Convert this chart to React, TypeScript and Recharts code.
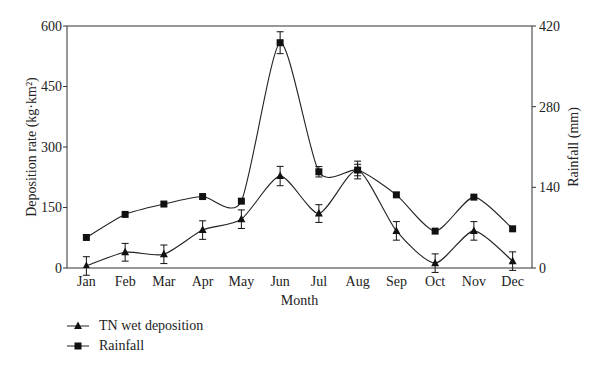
import React from 'react';
import { LineChart, Line, XAxis, YAxis, ErrorBar } from 'recharts';

const MONTHS = ['Jan', 'Feb', 'Mar', 'Apr', 'May', 'Jun', 'Jul', 'Aug', 'Sep', 'Oct', 'Nov', 'Dec'];
// TN wet deposition, left axis
const TN_DEPOSITION = [5, 39, 34, 94, 121, 228, 135, 243, 92, 12, 92, 17];
const TN_ERROR = [23, 22, 23, 23, 23, 24, 22, 22, 23, 23, 23, 23];
// rainfall (mm), right axis
const RAINFALL = [53, 93, 111, 124, 116, 391, 167, 170, 127, 64, 123, 68];
const RAINFALL_ERROR = [0, 0, 0, 0, 0, 19, 9, 10, 0, 0, 0, 0];

const LEFT_TICKS = [0, 150, 300, 450, 600];
const RIGHT_TICKS = [0, 140, 280, 420];

const SERIES_NAMES = ['TN wet deposition', 'Rainfall'];
const LEFT_TITLE = 'Deposition rate (kg·km²)';
const RIGHT_TITLE = 'Rainfall (mm)';
const X_TITLE = 'Month';

const data = MONTHS.map((month, i) => ({
  idx: i + 1,
  month,
  tn: TN_DEPOSITION[i],
  tnErr: TN_ERROR[i],
  rain: RAINFALL[i],
  rainErr: RAINFALL_ERROR[i],
}));

const MONTH_TICKS = MONTHS.map((_, i) => i + 1);
const BOUNDARY_TICKS = MONTHS.slice(1).map((_, i) => i + 1.5);

const FONT = '"Liberation Serif", "DejaVu Serif", serif';
const AXIS = '#333';
const LINE = '#222';
const MARK = '#111';

// cardinal spline, a bit tighter than catmull-rom
const TENSION = 0.3;
const softSpline = (context: any) => {
  let pts: number[][] = [];
  return {
    areaStart() {},
    areaEnd() {},
    lineStart() {
      pts = [];
    },
    point(x: number, y: number) {
      pts.push([+x, +y]);
    },
    lineEnd() {
      if (!pts.length) return;
      const k = (1 - TENSION) / 6;
      context.moveTo(pts[0][0], pts[0][1]);
      for (let i = 0; i < pts.length - 1; i++) {
        const p0 = pts[i - 1] || pts[i];
        const p1 = pts[i];
        const p2 = pts[i + 1];
        const p3 = pts[i + 2] || p2;
        context.bezierCurveTo(
          p1[0] + (p2[0] - p0[0]) * k,
          p1[1] + (p2[1] - p0[1]) * k,
          p2[0] - (p3[0] - p1[0]) * k,
          p2[1] - (p3[1] - p1[1]) * k,
          p2[0],
          p2[1]
        );
      }
    },
  };
};

const TriangleDot = (props: any) => {
  const { cx, cy, index } = props;
  if (cx == null || cy == null) return <g key={`t-${index}`} />;
  return (
    <polygon
      key={`t-${index}`}
      points={`${cx},${cy - 4.5} ${cx - 4},${cy + 3} ${cx + 4},${cy + 3}`}
      fill={MARK}
    />
  );
};

const SquareDot = (props: any) => {
  const { cx, cy, index } = props;
  if (cx == null || cy == null) return <g key={`s-${index}`} />;
  return <rect key={`s-${index}`} x={cx - 3.5} y={cy - 3.5} width={7} height={7} fill={MARK} />;
};

const tickStyle = { fill: '#222', fontSize: 14, fontFamily: FONT };
const titleStyle = { fill: '#222', fontSize: 14, fontFamily: FONT };

const LegendRow = ({ name, marker }: { name: string; marker: 'triangle' | 'square' }) => (
  <div style={{ display: 'flex', alignItems: 'center', height: 20 }}>
    <svg width={30} height={14} style={{ marginRight: 2 }}>
      <line x1={0} y1={7} x2={22} y2={7} stroke={LINE} strokeWidth={1} />
      {marker === 'triangle' ? (
        <polygon points="11,2.5 7,10 15,10" fill={MARK} />
      ) : (
        <rect x={7.5} y={3.5} width={7} height={7} fill={MARK} />
      )}
    </svg>
    <span style={{ fontFamily: FONT, fontSize: 14, color: '#222' }}>{name}</span>
  </div>
);

export default function App() {
  return (
    <div style={{ position: 'absolute', left: 0, top: 0, width: 600, height: 372, background: '#fff' }}>
      <LineChart
        width={600}
        height={372}
        data={data}
        margin={{ top: 26, right: 0, bottom: 64, left: 0 }}
      >
        <XAxis
          xAxisId="m"
          dataKey="idx"
          type="number"
          domain={[0.5, 12.5]}
          ticks={MONTH_TICKS}
          interval={0}
          allowDataOverflow
          tickFormatter={(v: number) => MONTHS[v - 1]}
          tick={tickStyle}
          tickLine={false}
          tickSize={0}
          tickMargin={8}
          height={40}
          axisLine={{ stroke: AXIS }}
          label={{ value: X_TITLE, position: 'center', dy: 12, style: titleStyle }}
        />
        <XAxis
          xAxisId="b"
          dataKey="idx"
          type="number"
          domain={[0.5, 12.5]}
          ticks={BOUNDARY_TICKS}
          interval={0}
          allowDataOverflow
          mirror
          tick={false}
          tickSize={4}
          tickLine={{ stroke: AXIS }}
          axisLine={false}
        />
        <XAxis
          xAxisId="top"
          dataKey="idx"
          type="number"
          orientation="top"
          domain={[0.5, 12.5]}
          allowDataOverflow
          mirror
          tick={false}
          tickLine={false}
          axisLine={{ stroke: AXIS }}
        />
        <YAxis
          yAxisId="left"
          domain={[0, 600]}
          ticks={LEFT_TICKS}
          interval={0}
          allowDataOverflow
          width={67}
          tick={tickStyle}
          tickSize={4}
          tickMargin={1}
          tickLine={{ stroke: AXIS }}
          axisLine={{ stroke: AXIS }}
          label={{ value: LEFT_TITLE, angle: -90, position: 'center', dx: -2, style: titleStyle }}
        />
        <YAxis
          yAxisId="right"
          orientation="right"
          domain={[0, 420]}
          ticks={RIGHT_TICKS}
          interval={0}
          allowDataOverflow
          width={68}
          tick={tickStyle}
          tickSize={4}
          tickMargin={3}
          tickLine={{ stroke: AXIS }}
          axisLine={{ stroke: AXIS }}
          label={{ value: RIGHT_TITLE, angle: -90, position: 'center', dx: 7, style: titleStyle }}
        />
        <Line
          xAxisId="m"
          yAxisId="left"
          dataKey="tn"
          name={SERIES_NAMES[0]}
          type={softSpline as any}
          stroke={LINE}
          strokeWidth={1.1}
          dot={TriangleDot}
          activeDot={false}
          isAnimationActive={false}
        >
          <ErrorBar dataKey="tnErr" direction="y" width={3.5} stroke={MARK} strokeWidth={1} />
        </Line>
        <Line
          xAxisId="m"
          yAxisId="right"
          dataKey="rain"
          name={SERIES_NAMES[1]}
          type={softSpline as any}
          stroke={LINE}
          strokeWidth={1.1}
          dot={SquareDot}
          activeDot={false}
          isAnimationActive={false}
        >
          <ErrorBar dataKey="rainErr" direction="y" width={3.5} stroke={MARK} strokeWidth={1} />
        </Line>
      </LineChart>
      <div style={{ position: 'absolute', left: 67, top: 316 }}>
        <LegendRow name={SERIES_NAMES[0]} marker="triangle" />
        <LegendRow name={SERIES_NAMES[1]} marker="square" />
      </div>
    </div>
  );
}
